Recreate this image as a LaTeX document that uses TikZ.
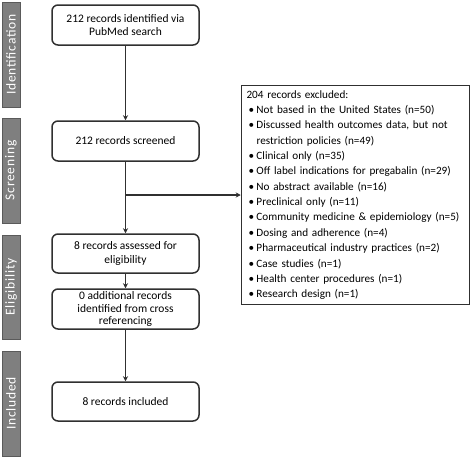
\documentclass[tikz,border=0pt]{standalone}
\usepackage{fontspec}
\setmainfont{Carlito}
\usetikzlibrary{arrows.meta}
\definecolor{barfill}{HTML}{7F7F7F}
\definecolor{barline}{HTML}{5A5A5A}
\definecolor{linec}{HTML}{303030}
\tikzset{
  phase/.style={draw=barline, fill=barfill, line width=0.8pt, minimum width=18pt, inner sep=0pt, text=white},
  phasetxt/.style={text=white, font=\fontsize{13.5}{14}\selectfont\addfontfeatures{LetterSpace=6}, rotate=90},
  stepbox/.style={draw=linec, line width=1.5pt, rounded corners=6pt, minimum width=147pt, minimum height=40pt, align=center, font=\fontsize{11.5}{13.5}\selectfont, inner sep=1pt},
  exbox/.style={draw=linec, line width=1.5pt, minimum width=228pt, minimum height=215pt, text width=218pt, align=left, font=\fontsize{11.2}{15.35}\selectfont, inner sep=5pt},
  arr/.style={draw=linec, line width=1.5pt, -{Stealth[length=5pt,width=5pt]}},
}
\newcommand{\exitem}[1]{\hspace*{2pt}\makebox[8pt][l]{•}#1}
\begin{document}
\begin{tikzpicture}[x=1pt,y=-1pt]
\useasboundingbox (0,0) rectangle (472,458);
% phase bars
\draw[phase] (2,2) rectangle (20,107);
\node[phasetxt] (pid) at (11,54.5) {Identification};
\draw[phase] (2,118) rectangle (20,223);
\node[phasetxt] (psc) at (11,170.5) {Screening};
\draw[phase] (2,235) rectangle (20,339);
\node[phasetxt] (pel) at (11,287) {Eligibility};
\draw[phase] (2,351) rectangle (20,456);
\node[phasetxt] (pin) at (11,403.5) {Included};
% boxes
\node[stepbox] (b1) at (125.5,25) {212 records identified via\\PubMed search};
\node[stepbox] (b2) at (125.5,141) {212 records screened};
\node[stepbox, minimum height=39pt] (b3) at (125.5,253.5) {8 records assessed for\\eligibility};
\node[stepbox, font=\fontsize{11.5}{12.5}\selectfont] (b4) at (125.5,309) {0 additional records\\identified from cross\\referencing};
\node[stepbox, minimum height=39pt] (b5) at (125.5,401.5) {8 records included};
\node[exbox] (ex) at (355.5,195) {204 records excluded:\\
\exitem{Not based in the United States (n=50)}\\
\exitem{Discussed health outcomes data, but not}\\
\hspace*{10pt}restriction policies (n=49)\\
\exitem{Clinical only (n=35)}\\
\exitem{Off label indications for pregabalin (n=29)}\\
\exitem{No abstract available (n=16)}\\
\exitem{Preclinical only (n=11)}\\
\exitem{Community medicine \& epidemiology (n=5)}\\
\exitem{Dosing and adherence (n=4)}\\
\exitem{Pharmaceutical industry practices (n=2)}\\
\exitem{Case studies (n=1)}\\
\exitem{Health center procedures (n=1)}\\
\exitem{Research design (n=1)}};
% connectors
\draw[arr] (b1) -- (b2);
\draw[arr] (b2) -- (b3);
\coordinate (br) at (b2.south |- ex.west);
\draw[arr] (br) -- (ex.west);
\draw[arr] (b3) -- (b4);
\draw[arr] (b4) -- (b5);
\end{tikzpicture}
\end{document}
